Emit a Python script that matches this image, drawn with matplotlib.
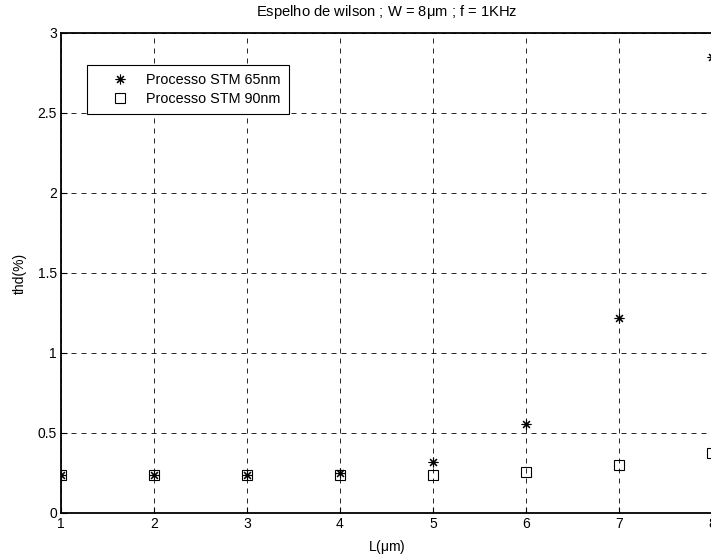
import matplotlib
matplotlib.use("Agg")
import matplotlib.pyplot as plt

plt.rcParams['font.family'] = ['Liberation Sans', 'DejaVu Sans']
plt.rcParams['mathtext.fontset'] = 'custom'
plt.rcParams['mathtext.rm'] = 'Liberation Sans'
plt.rcParams['mathtext.it'] = 'Liberation Sans'

L = [1, 2, 3, 4, 5, 6, 7, 8]
thd_65 = [0.24, 0.24, 0.24, 0.25, 0.32, 0.555, 1.22, 2.85]
thd_90 = [0.24, 0.24, 0.24, 0.24, 0.24, 0.256, 0.298, 0.373]

fig = plt.figure(figsize=(7.11, 5.57), dpi=100)
ax = fig.add_axes([61 / 711, 44 / 557, 651 / 711, 480 / 557])

ax.plot(L, thd_65, linestyle='none', marker=(8, 2, 0), markersize=7,
        color='black', markeredgewidth=0.8, label='Processo STM 65nm')
ax.plot(L, thd_90, linestyle='none', marker='s', markersize=6.5,
        markerfacecolor='none', markeredgecolor='black', markeredgewidth=0.8,
        label='Processo STM 90nm')

ax.set_xlim(1, 8)
ax.set_ylim(0, 3)
ax.set_xticks(L)
ax.set_yticks([0, 0.5, 1, 1.5, 2, 2.5, 3])
ax.set_yticklabels(['0', '0.5', '1', '1.5', '2', '2.5', '3'])
ax.grid(True, color='black', linestyle=(0, (6, 6)), linewidth=0.6)
ax.tick_params(direction='in', labelsize=10, length=4, pad=3)
for s in ax.spines.values():
    s.set_linewidth(1.3)

ax.set_title(r'Espelho de wilson ; W = 8$\mu$m ; f = 1KHz', fontsize=10.6, pad=12)
ax.set_xlabel(r'L($\mu$m)', fontsize=10, labelpad=5)
ax.set_ylabel('thd(%)', fontsize=10, labelpad=8)

leg = ax.legend(loc='upper left', bbox_to_anchor=(26 / 651, 448 / 480), fontsize=10.4,
                frameon=True, fancybox=False, edgecolor='black', framealpha=1,
                handlelength=3.5, handletextpad=0.05, borderpad=0.55,
                labelspacing=0.35, borderaxespad=0)
leg.get_frame().set_linewidth(0.8)

fig.savefig('out.png', dpi=100)
